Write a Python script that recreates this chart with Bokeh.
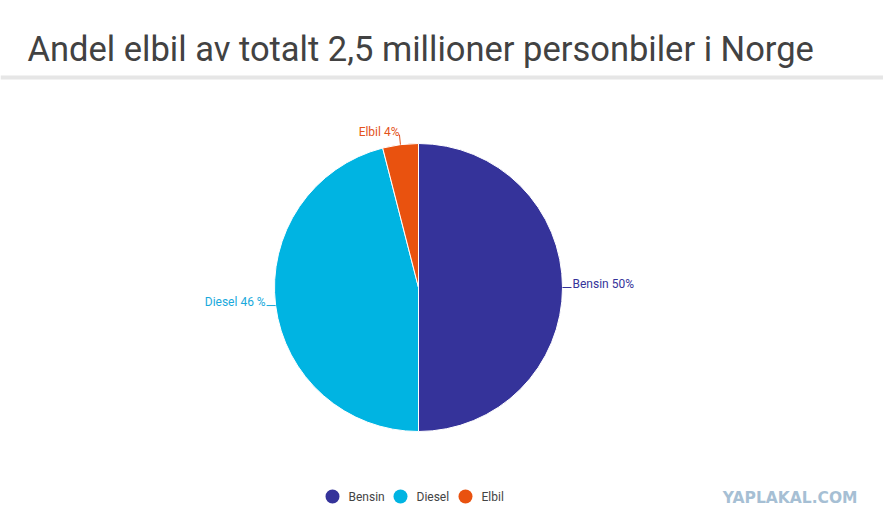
import math
from bokeh.plotting import figure
from bokeh.models import Range1d, Span
from bokeh.core.properties import value
from bokeh.embed import file_html
from bokeh.resources import INLINE

# ---- data ----
categories = ["Bensin", "Diesel", "Elbil"]
shares = [50, 46, 4]
slice_labels = ["Bensin 50%", "Diesel 46 %", "Elbil 4%"]
colors = ["#35339a", "#00b4e2", "#e9520f"]
label_colors = ["#35339a", "#1aa9dc", "#e4531b"]
title_text = "Andel elbil av totalt 2,5 millioner personbiler i Norge"

W, H = 883, 526
def fx(sx):
    return sx
def fy(sy):
    return H - sy

p = figure(width=W, height=H, output_backend="svg", toolbar_location=None,
           x_range=Range1d(0, W), y_range=Range1d(0, H), min_border=0)
p.axis.visible = False
p.grid.visible = False
p.outline_line_color = None
p.background_fill_color = "white"
p.border_fill_color = "white"

# title + separator
p.text(x=[fx(27)], y=[fy(48)], text=[title_text], text_font=value("Roboto"),
       text_font_size="34.5px", text_color="#424242", text_baseline="alphabetic")
p.add_layout(Span(location=fy(77), dimension="width", line_color="#e6e6e6", line_width=4))

# pie
cx, cy, r = fx(418), fy(287), 144
total = float(sum(shares))
starts, ends, mids = [], [], []
a = math.pi / 2
for v in shares:
    da = 2 * math.pi * v / total
    starts.append(a)
    ends.append(a - da)
    mids.append(a - da / 2)
    a -= da

p.wedge(x=[cx] * len(shares), y=[cy] * len(shares), radius=r,
        start_angle=starts, end_angle=ends, direction="clock",
        fill_color=colors, line_color="white", line_width=1)

# leader lines and labels
for lab, col, m in zip(slice_labels, label_colors, mids):
    ex, ey = cx + r * math.cos(m), cy + r * math.sin(m)
    if abs(math.cos(m)) > 0.5:
        sgn = 1 if math.cos(m) > 0 else -1
        x2, y2 = ex + sgn * 9, ey
        p.line([ex, x2], [ey, y2], line_color=col, line_width=1)
        p.text(x=[x2 + sgn * 1], y=[y2 + 4], text=[lab], text_font=value("Roboto"),
               text_font_size="12px", text_color=col,
               text_align="left" if sgn > 0 else "right", text_baseline="middle")
    else:
        x2, y2 = ex - 1, ey + 10
        p.line([ex, x2], [ey, y2], line_color=col, line_width=1)
        p.text(x=[x2], y=[y2 + 3], text=[lab], text_font=value("Roboto"),
               text_font_size="12px", text_color=col,
               text_align="right", text_baseline="middle")

# legend
leg_x = [fx(332), fx(400), fx(465)]
leg_y = fy(496)
p.scatter(x=leg_x, y=[leg_y] * 3, size=14, marker="circle", fill_color=colors, line_color=None)
p.text(x=[lx + 16 for lx in leg_x], y=[leg_y] * 3, text=categories, text_font=value("Roboto"),
       text_font_size="12px", text_color="#444444", text_baseline="middle", text_align="left")

# watermark
p.text(x=[fx(857)], y=[fy(497)], text=["YAPLAKAL.COM"], text_font=value("DejaVu Sans"),
       text_font_style="bold", text_font_size="15.5px", text_color="#a6bfd4",
       text_align="right", text_baseline="middle")

open("out.html", "w").write(file_html(p, INLINE))
